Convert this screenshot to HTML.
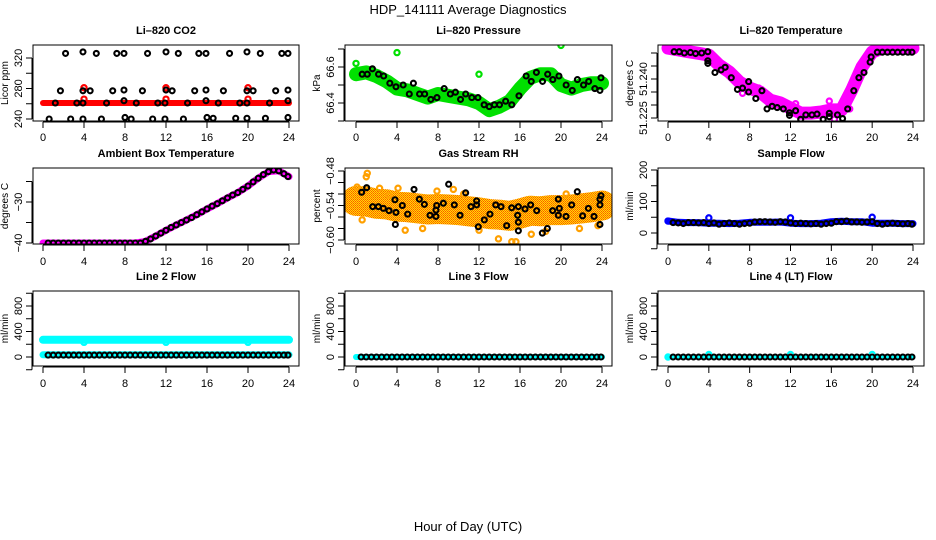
<!DOCTYPE html>
<html><head><meta charset="utf-8"><style>
html,body{margin:0;padding:0;background:#fff}
svg{display:block}
text{font-family:"Liberation Sans",sans-serif}
</style></head><body>
<svg id="chart" width="936" height="540" viewBox="0 0 936 540" xmlns="http://www.w3.org/2000/svg">
<defs>
<pattern id="rhpat" width="2" height="2" patternUnits="userSpaceOnUse">
<rect width="2" height="2" fill="#ffe000"/><rect width="1" height="1" fill="#ff7000"/><rect x="1" y="1" width="1" height="1" fill="#ff5000"/>
</pattern>
</defs>
<text x="468" y="14" text-anchor="middle" font-size="13">HDP_141111  Average Diagnostics</text>
<text x="468" y="531" text-anchor="middle" font-size="13">Hour of Day (UTC)</text>
</svg>
<script>
const halfHours=[0.5,1,1.5,2,2.5,3,3.5,4,4.5,5,5.5,6,6.5,7,7.5,8,8.5,9,9.5,10,10.5,11,11.5,12,12.5,13,13.5,14,14.5,15,15.5,16,16.5,17,17.5,18,18.5,19,19.5,20,20.5,21,21.5,22,22.5,23,23.5,23.9];
const bandHours=[0,1,2,3,4,5,6,7,8,9,10,11,12,13,14,15,16,17,18,19,20,21,22,23,24];
const xTickLabels=["0","4","8","12","16","20","24"];

// CO2
const co2Band=[261,261,261,261,261,261,261,261,261,261,261,261,261,261,261,261,261,261,261,261,261,261,261,261,261];
const co2BlackHours=[2.2,3.9,5.2,7.2,7.9,10.2,12.0,13.2,15.2,15.9,18.2,19.9,21.2,23.3,23.9, 1.7,3.9,4.6,6.8,7.9,9.7,12,12.6,14.8,15.9,17.6,19.9,20.5,22.7,23.9, 1.2,3.3,3.9,6.2,7.9,9.1,11.2,11.9,14.1,15.9,17.1,19.2,19.9,22.1,23.9, 0.6,2.7,3.9,5.7,8,8.6,10.7,11.9,13.7,16,16.6,18.8,19.9,21.7,23.9];
const co2BlackVals=[326,328,326,326,326,326,328,326,326,326,326,328,326,326,326, 277,277,277,277,278,277,278,277,277,278,277,277,277,277,278, 261,261,261,261,264,261,261,261,261,264,261,261,261,261,264, 240,240,240,240,242,240,240,240,240,242,241,241,241,241,242];
const co2RedHours=[4,4,12,12,20,20];
const co2RedVals=[281,266,281,266,281,266];

// Pressure
const presBand=[66.56,66.57,66.55,66.52,66.48,66.47,66.45,66.43,66.45,66.44,66.43,66.42,66.40,66.36,66.38,66.41,66.48,66.54,66.56,66.56,66.50,66.48,66.50,66.51,66.51];
const presBlackHours=[0.6,1.1,1.6,2.2,2.7,3.3,3.9,4.6,5.2,5.6,6.2,6.7,7.3,7.9,8.6,9.2,9.7,10.2,10.7,11.3,11.9,12.5,13,13.5,14,14.6,15.2,15.9,16.6,17.1,17.6,18.2,18.7,19.2,19.8,20.5,21.1,21.6,22.2,22.7,23.3,23.8,23.9];
const presBlackVals=[66.56,66.56,66.59,66.56,66.55,66.51,66.49,66.50,66.45,66.51,66.45,66.45,66.42,66.43,66.48,66.45,66.46,66.42,66.45,66.43,66.43,66.39,66.38,66.39,66.39,66.41,66.39,66.44,66.55,66.52,66.57,66.52,66.56,66.53,66.55,66.50,66.47,66.53,66.50,66.52,66.48,66.47,66.54];
const presGreenHours=[4,12,20,0];
const presGreenVals=[66.68,66.56,66.72,66.62];

// Temperature
const tempBand=[51.2519,51.2512,51.2505,51.2499,51.2492,51.2454,51.2427,51.2388,51.2365,51.2350,51.2319,51.2308,51.2288,51.2269,51.2269,51.2273,51.2281,51.2281,51.2358,51.2446,51.2504,51.2519,51.2519,51.2519,51.2519];
const tempBlackHours=[0.6,1.1,1.6,2.2,2.7,3.3,3.9,3.9,3.9,4.6,5.2,5.6,6.2,6.8,7.3,7.9,7.9,8.6,9.2,9.7,10.2,10.7,11.3,11.9,11.9,12.5,13,13.5,14.1,14.6,15.2,15.8,15.8,16.6,17.1,17.6,18.2,18.7,19.2,19.8,19.9,20.5,21,21.5,22,22.5,23,23.5,23.9];
const tempBlackVals=[51.2505,51.2505,51.2500,51.2502,51.2498,51.2500,51.2505,51.2470,51.2460,51.2425,51.2435,51.2445,51.2405,51.2360,51.2365,51.2390,51.2350,51.2325,51.2355,51.2285,51.2295,51.2290,51.2285,51.2270,51.2260,51.2278,51.2245,51.2262,51.2262,51.2265,51.2245,51.2268,51.2255,51.2262,51.2248,51.2285,51.2355,51.2405,51.2425,51.2465,51.2485,51.2503,51.2503,51.2503,51.2503,51.2503,51.2503,51.2503,51.2503];
const tempPinkHours=[7.3,7.7,8.9,9.1,12.5,15.8,16.3,17.8];
const tempPinkVals=[51.2345,51.2375,51.2365,51.2335,51.2305,51.2315,51.2245,51.2285];

// Ambient
const ambBand=[-40,-40,-40,-40,-40,-40,-40,-40,-40,-40,-39.6,-38.3,-36.9,-35.6,-34.4,-33.1,-31.7,-30.4,-29,-27.7,-26.1,-24.2,-22.6,-22.4,-23.8];
const ambBlackVals=[-40,-40,-40,-40,-40,-40,-40,-40,-40,-40,-40,-40,-40,-40,-40,-40,-40,-40,-40,-39.6,-39,-38.3,-37.6,-36.9,-36.2,-35.6,-35,-34.4,-33.8,-33.1,-32.4,-31.7,-31,-30.4,-29.7,-29,-28.3,-27.7,-26.9,-26.1,-25.1,-24.2,-23.3,-22.6,-22.2,-22.4,-23.1,-23.8];

// RH
const rhBand=[-0.532,-0.533,-0.537,-0.538,-0.542,-0.543,-0.545,-0.547,-0.546,-0.547,-0.548,-0.550,-0.552,-0.555,-0.556,-0.558,-0.554,-0.549,-0.550,-0.548,-0.548,-0.547,-0.545,-0.543,-0.540];
const rhBlackHours=[0.55,1.04,1.63,2.18,2.67,3.22,3.8,3.9,3.84,4.52,5.04,5.66,6.18,6.67,7.22,7.8,7.87,7.8,8.52,9.04,9.59,10.15,10.7,11.22,11.77,11.77,11.93,12.52,13.07,13.63,14.15,14.7,15.19,15.77,15.84,15.84,15.84,16.49,17.04,17.63,18.18,18.67,19.19,19.74,19.74,19.84,20.49,21.04,21.59,22.11,22.67,23.22,23.8,23.8,23.9,23.8];
const rhBlackVals=[-0.517,-0.509,-0.542,-0.542,-0.545,-0.549,-0.530,-0.552,-0.573,-0.540,-0.555,-0.512,-0.529,-0.538,-0.557,-0.548,-0.540,-0.559,-0.536,-0.503,-0.539,-0.557,-0.518,-0.542,-0.539,-0.532,-0.577,-0.565,-0.555,-0.539,-0.542,-0.575,-0.544,-0.557,-0.542,-0.569,-0.584,-0.546,-0.539,-0.549,-0.588,-0.580,-0.549,-0.529,-0.557,-0.545,-0.559,-0.539,-0.516,-0.558,-0.545,-0.559,-0.539,-0.573,-0.523,-0.529];
const rhOrangeHours=[0.1,1,1.1,0.6,4.1,4.8,7.9,10.5,13.9,15.2,15.6,17.1,21.8,23,23.6,12,3.2,2.3,6.5,9.5,18.5,20.5];
const rhOrangeVals=[-0.508,-0.49,-0.484,-0.565,-0.51,-0.583,-0.515,-0.52,-0.598,-0.603,-0.603,-0.59,-0.58,-0.527,-0.575,-0.583,-0.522,-0.51,-0.58,-0.512,-0.585,-0.52];

// Sample flow
const sampBand=[38,34,33,33,31,31,30,31,34,34,34,35,31,30,30,31,36,37,36,36,31,31,31,30,30];
const sampBlackVals=[33,32,30,33,33,32,33,30,32,28,30,32,30,28,30,31,35,36,36,35,34,36,35,32,30,31,30,29,30,28,30,31,36,36,38,35,35,34,35,36,30,28,30,31,30,29,30,28];
const sampBlueHours=[0,4,12,20];
const sampBlueVals=[38,48,48,50];

// Line flows
const l2UpperBand=[270,270,270,270,270,270,270,270,270,270,270,270,270,270,270,270,270,270,270,270,270,270,270,270,270];
const l2LowerBand=[35,35,35,35,35,35,35,35,35,35,35,35,35,35,35,35,35,35,35,35,35,35,35,35,35];
const l2BlackVals=[30,30,30,30,30,30,30,30,30,30,30,30,30,30,30,30,30,30,30,30,30,30,30,30,30,30,30,30,30,30,30,30,30,30,30,30,30,30,30,30,30,30,30,30,30,30,30,30];
const l2CyanHours=[4,12,20];
const l2CyanVals=[230,230,230];
const l3Band=[0,0,0,0,0,0,0,0,0,0,0,0,0,0,0,0,0,0,0,0,0,0,0,0,0];
const l3BlackVals=[0,0,0,0,0,0,0,0,0,0,0,0,0,0,0,0,0,0,0,0,0,0,0,0,0,0,0,0,0,0,0,0,0,0,0,0,0,0,0,0,0,0,0,0,0,0,0,0];
const l4Band=[0,0,0,0,0,0,0,0,0,0,0,0,0,0,0,0,0,0,0,0,0,0,0,0,0];
const l4BlackVals=[0,0,0,0,0,0,0,0,0,0,0,0,0,0,0,0,0,0,0,0,0,0,0,0,0,0,0,0,0,0,0,0,0,0,0,0,0,0,0,0,0,0,0,0,0,0,0,0];
const l4CyanHours=[0,4,12,20];
const l4CyanVals=[0,40,40,40];

const NS="http://www.w3.org/2000/svg";
const svg=document.getElementById('chart');
function mk(tag,attrs,parent){const e=document.createElementNS(NS,tag);for(const k in attrs)e.setAttribute(k,attrs[k]);(parent||svg).appendChild(e);return e;}

const cols=[{l:33,r:299,x0:43,x24:289},{l:345,r:612,x0:356,x24:602},{l:658,r:924,x0:668,x24:913}];
const rows=[{t:45,b:121,title:34,tl:137},{t:168,b:244,title:157,tl:261},{t:291,b:366,title:280,tl:383}];

function panel(name,ci,ri,title,ylab,v1,p1,v2,p2,tickStart,tickStep,tickCount,labelIdx,labelText){
  const c=cols[ci],r=rows[ri];
  const g=mk('g',{});
  
  
  const sx=h=>c.x0+(c.x24-c.x0)*h/24;
  const sy=v=>p1+(v-v1)*(p2-p1)/(v2-v1);
  const t=mk('text',{x:(c.l+c.r)/2,y:r.title,'text-anchor':'middle','font-size':11,'font-weight':'bold'},g);
  t.textContent=title;
  
  
  const yl=mk('text',{x:0,y:0,'text-anchor':'middle','font-size':10,transform:`translate(${c.l-25},${(r.t+r.b)/2}) rotate(-90)`},g);
  yl.textContent=ylab;
  
  
  const xa=mk('g',{},g);
  
  
  mk('line',{x1:sx(0),x2:sx(24),y1:r.b+1,y2:r.b+1,stroke:'#000','stroke-width':1},xa);
  xTickLabels.forEach((lab,i)=>{const h=i*4;
    mk('line',{x1:sx(h),x2:sx(h),y1:r.b+1,y2:r.b+7,stroke:'#000'},xa);
    const tx=mk('text',{x:sx(h),y:r.tl+4,'text-anchor':'middle','font-size':11},xa);tx.textContent=lab;});
  const ya=mk('g',{},g);
  
  
  const yTop=sy(tickStart+tickStep*(tickCount-1)),yBot=sy(tickStart);
  mk('line',{x1:c.l-1,x2:c.l-1,y1:yTop,y2:yBot,stroke:'#000'},ya);
  for(let i=0;i<tickCount;i++){const v=tickStart+tickStep*i;const y=sy(v);
    mk('line',{x1:c.l-7,x2:c.l-1,y1:y,y2:y,stroke:'#000'},ya);}
  labelIdx.forEach((idx,j)=>{const y=sy(tickStart+tickStep*idx);
    const tx=mk('text',{x:0,y:0,'text-anchor':'middle','font-size':11,transform:`translate(${c.l-11},${y}) rotate(-90)`},ya);
    tx.textContent=labelText[j];});
  const marks=mk('g',{},g);
  
  
  const cp=mk('clipPath',{id:'clip-'+name},g);
  mk('rect',{x:c.l,y:r.t,width:c.r-c.l,height:r.b-r.t},cp);
  marks.setAttribute('clip-path','url(#clip-'+name+')');
  const box=mk('rect',{x:c.l,y:r.t,width:c.r-c.l,height:r.b-r.t,fill:'none',stroke:'#000','stroke-width':1},g);
  
  
  return {sx,sy,marks};
}
function band(P,hours,vals,color,w,nm){
  const d=hours.map((h,i)=>(i?'L':'M')+P.sx(h).toFixed(1)+' '+P.sy(vals[i]).toFixed(1)).join(' ');
  const p=mk('path',{d:d,fill:'none',stroke:color,'stroke-width':w,'stroke-linecap':'round','stroke-linejoin':'round'},P.marks);
  
  
}
function pts(P,hours,vals,color,rad,sw,nm){
  const g=mk('g',{},P.marks);
  
  
  hours.forEach((h,i)=>{const c=mk('circle',{cx:P.sx(h),cy:P.sy(vals[i]),r:rad,fill:'none',stroke:color,'stroke-width':sw},g);
    
    });
}

let P;
P=panel('co2',0,0,'Li\u2013820 CO2','Licor ppm',240,119,320,58,240,20,5,[0,2,4],['240','280','320']);
band(P,bandHours,co2Band,'#ff0000',6,'co2-red-band');
pts(P,co2RedHours,co2RedVals,'#ff0000',2.6,2.2,'co2-red-points');
pts(P,co2BlackHours,co2BlackVals,'#000',2.5,2.1,'co2-black-points');

P=panel('pressure',1,0,'Li\u2013820 Pressure','kPa',66.4,103,66.6,67,66.3,0.1,5,[1,3],['66.4','66.6']);
band(P,bandHours,presBand,'#00e000',14,'pressure-green-band');
pts(P,presGreenHours,presGreenVals,'#00e000',2.6,2.2,'pressure-green-points');
pts(P,presBlackHours,presBlackVals,'#000',2.5,2.1,'pressure-black-points');

P=panel('temperature',2,0,'Li\u2013820 Temperature','degrees C',51.225,118,51.240,79,51.225,0.005,6,[0,3],['51.225','51.240']);
band(P,bandHours,tempBand,'#ff00ff',13,'temperature-magenta-band');
pts(P,tempPinkHours,tempPinkVals,'#ff00ff',2.6,2.2,'temperature-magenta-points');
pts(P,tempBlackHours,tempBlackVals,'#000',2.5,2.1,'temperature-black-points');

P=panel('ambient',0,1,'Ambient Box Temperature','degrees C',-40,243,-30,202,-40,5,4,[0,2],['\u221240','\u221230']);
band(P,bandHours,ambBand,'#ff00ff',7,'ambient-magenta-band');
pts(P,halfHours,ambBlackVals,'#000',2.5,2.1,'ambient-black-points');

P=panel('rh',1,1,'Gas Stream RH','percent',-0.48,171,-0.60,240,-0.60,0.02,7,[0,3,6],['\u22120.60','\u22120.54','\u22120.48']);
band(P,bandHours,rhBand,'url(#rhpat)',30,'rh-orange-band');
pts(P,rhOrangeHours,rhOrangeVals,'#ffa000',2.6,2.2,'rh-orange-points');
pts(P,rhBlackHours,rhBlackVals,'#000',2.5,2.1,'rh-black-points');

P=panel('sample-flow',2,1,'Sample Flow','ml/min',0,233,200,170,-50,50,6,[1,3,5],['0','100','200']);
band(P,bandHours,sampBand,'#0000ff',7,'sample-flow-blue-band');
pts(P,sampBlueHours,sampBlueVals,'#0000ff',2.6,2.2,'sample-flow-blue-points');
pts(P,halfHours,sampBlackVals,'#000',2.5,2.1,'sample-flow-black-points');

P=panel('line2-flow',0,2,'Line 2 Flow','ml/min',0,357,800,306,-200,200,7,[1,3,5],['0','400','800']);
band(P,bandHours,l2UpperBand,'#00ffff',8,'line2-upper-cyan-band');
band(P,bandHours,l2LowerBand,'#00ffff',7,'line2-lower-cyan-band');
pts(P,l2CyanHours,l2CyanVals,'#00ffff',2.6,2.2,'line2-cyan-points');
pts(P,halfHours,l2BlackVals,'#000',2.5,2.1,'line2-black-points');

P=panel('line3-flow',1,2,'Line 3 Flow','ml/min',0,357,800,306,-200,200,7,[1,3,5],['0','400','800']);
band(P,bandHours,l3Band,'#00ffff',6,'line3-cyan-band');
pts(P,halfHours,l3BlackVals,'#000',2.5,2.1,'line3-black-points');

P=panel('line4-flow',2,2,'Line 4 (LT) Flow','ml/min',0,357,800,306,-200,200,7,[1,3,5],['0','400','800']);
band(P,bandHours,l4Band,'#00ffff',5,'line4-cyan-band');
pts(P,l4CyanHours,l4CyanVals,'#00ffff',2.6,2.2,'line4-cyan-points');
pts(P,halfHours,l4BlackVals,'#000',2.5,2.1,'line4-black-points');
</script>
</body></html>
